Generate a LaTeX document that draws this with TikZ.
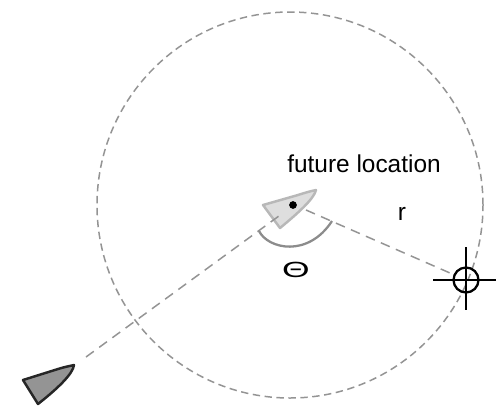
\documentclass[tikz,border=0pt]{standalone}
\usepackage{fontspec}
\setmainfont{Liberation Sans}
\usetikzlibrary{positioning}
\definecolor{dashgray}{gray}{0.58}

\begin{document}
\begin{tikzpicture}[
    x=0.02cm, y=-0.02cm,
    font=\fontsize{13.9}{16}\selectfont,
    dashline/.style={draw=dashgray, line width=0.85pt, dash pattern=on 5.5pt off 3.8pt},
    rangeline/.style={draw=dashgray, line width=0.85pt, dash pattern=on 4.2pt off 2.6pt},
    ship/.style={line width=1.4pt, line join=round},
    label/.style={inner sep=0pt, text=black},
    crosshair/.style={black, line width=1.2pt}
]
\useasboundingbox (0,0) rectangle (496,406);

% range circle
\node[circle, rangeline, minimum size=386*0.02cm, inner sep=0pt] (range) at (290,205) {};

% ships
\draw[ship, draw=black!85, fill=black!42] (23,380) -- (58,369) .. controls (64,367) and (70,366) .. (74,365) .. controls (73,374) and (57,389) .. (38,404) -- cycle;
\draw[ship, draw=black!28, fill=black!13] (263,205) -- (298,195) .. controls (304,193) and (311,191) .. (316,190) .. controls (314,199) and (297,214) .. (280,228) -- cycle;

% named points
\node[circle, fill=black, inner sep=0pt, minimum size=4.4pt] (future) at (293,205) {};
\node[circle, draw=black, line width=1.3pt, inner sep=0pt, minimum size=25*0.02cm] (target) at (466,280) {};
\coordinate (start) at (86,357);
\coordinate (rudder) at (283,213);
\coordinate (rstart) at (306,210);

\draw[dashline] (start) -- (rudder);
\draw[dashline] (rstart) -- (target);

% crosshair
\draw[crosshair] (433,280) -- (496,280);
\draw[crosshair] (466,247) -- (466,310);

% bearing arc
\draw[draw=black!45, line width=1.3pt] (259,231) .. controls (268,249) and (308,258) .. (332,221);

% labels
\node[label] (futurelabel) at (364,164) {future location};
\node[label] (rlabel) at (402,214) {r};
\node[label, xscale=1.45, yscale=0.9] (thetalabel) at (296,270) {Θ};
\end{tikzpicture}
\end{document}
